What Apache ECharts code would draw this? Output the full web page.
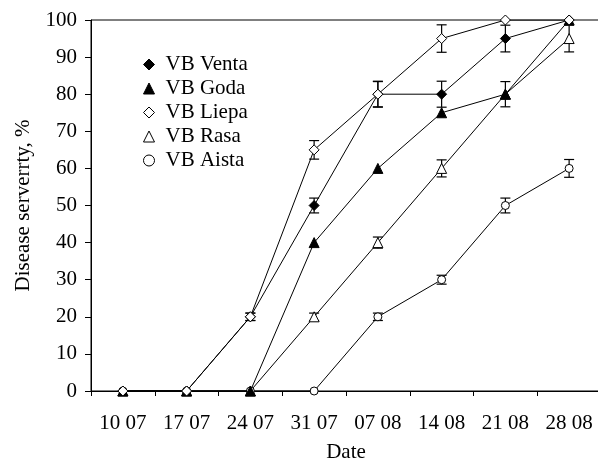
<!DOCTYPE html>
<html>
<head>
<meta charset="utf-8">
<script src="https://cdn.jsdelivr.net/npm/echarts@6/dist/echarts.min.js"></script>
<style>
  html, body { margin: 0; padding: 0; background: #fff; }
  #chart { width: 598px; height: 460px; }
</style>
</head>
<body>
<div id="chart"></div>
<script>
const dates = ['10 07', '17 07', '24 07', '31 07', '07 08', '14 08', '21 08', '28 08']

const venta = [0, 0, 20, 50, 80, 80, 95, 100]
const ventaErr = [0, 0, 1, 2, 3.5, 3.5, 3.6, 0]
const goda = [0, 0, 0, 40, 60, 75, 80, 100]
const godaErr = [0, 0, 0, 0, 0, 0, 3.4, 0]
const liepa = [0, 0, 20, 65, 80, 95, 100, 100]
const liepaErr = [0, 0, 1, 2.5, 3.4, 3.7, 0, 0]
const rasa = [0, 0, 0, 20, 40, 60, 80, 95]
const rasaErr = [0, 0, 0, 1, 1.5, 2.3, 0, 3.6]
const aista = [0, 0, 0, 0, 20, 30, 50, 60]
const aistaErr = [0, 0, 0, 0, 1, 1.2, 2, 2.4]

const font = 'Liberation Serif'

let myChart = echarts.init(document.getElementById('chart'), null, { renderer: 'canvas' })

// 误差线
function errorSeries(values, errs) {
  let data = []
  values.forEach((v, i) => {
    if (errs[i] > 0) data.push([i, v, errs[i]])
  })
  return {
    type: 'custom',
    z: 1,
    silent: true,
    data: data,
    encode: { x: 0, y: 1 },
    renderItem: function (params, api) {
      let x = api.value(0)
      let v = api.value(1)
      let e = api.value(2)
      let hi = api.coord([x, v + e])
      let lo = api.coord([x, v - e])
      let w = 5
      let style = { stroke: '#000', lineWidth: 1.2 }
      return {
        type: 'group',
        children: [
          { type: 'line', shape: { x1: hi[0], y1: hi[1], x2: lo[0], y2: lo[1] }, style: style },
          { type: 'line', shape: { x1: hi[0] - w, y1: hi[1], x2: hi[0] + w, y2: hi[1] }, style: style },
          { type: 'line', shape: { x1: lo[0] - w, y1: lo[1], x2: lo[0] + w, y2: lo[1] }, style: style }
        ]
      }
    }
  }
}

function lineSeries(name, values, symbol, size, filled) {
  return {
    name: name,
    type: 'line',
    z: 3,
    data: values,
    symbol: symbol,
    symbolSize: size,
    showAllSymbol: true,
    lineStyle: { color: '#000', width: 1 },
    itemStyle: filled
      ? { color: '#000', borderColor: '#000', borderWidth: 1 }
      : { color: '#fff', borderColor: '#000', borderWidth: 1 },
    emphasis: { disabled: true },
    animation: false
  }
}

const filledStyle = { color: '#000', borderColor: '#000', borderWidth: 1 }
const openStyle = { color: '#fff', borderColor: '#000', borderWidth: 1 }

myChart.setOption({
  animation: false,
  textStyle: { fontFamily: font, color: '#000' },
  grid: {
    left: 91,
    top: 20,
    width: 510,
    height: 371,
    outerBoundsMode: 'none',
    containLabel: false,
    show: true,
    borderColor: '#000',
    borderWidth: 1,
    backgroundColor: 'transparent'
  },
  legend: {
    orient: 'vertical',
    left: 138,
    top: 49,
    itemWidth: 11,
    itemHeight: 11,
    itemGap: 3,
    textStyle: { fontFamily: font, fontSize: 21, color: '#000', padding: [0, 0, 0, 6] },
    data: [
      { name: 'VB Venta', icon: 'diamond', itemStyle: filledStyle },
      { name: 'VB Goda', icon: 'triangle', itemStyle: filledStyle },
      { name: 'VB Liepa', icon: 'diamond', itemStyle: openStyle },
      { name: 'VB Rasa', icon: 'triangle', itemStyle: openStyle },
      { name: 'VB Aista', icon: 'circle', itemStyle: openStyle }
    ]
  },
  xAxis: {
    type: 'category',
    data: dates,
    boundaryGap: true,
    name: 'Date',
    nameLocation: 'middle',
    nameGap: 51,
    nameTextStyle: { fontFamily: font, fontSize: 21, color: '#000' },
    axisLine: { lineStyle: { color: '#000', width: 1 } },
    axisTick: { show: true, length: 5, lineStyle: { color: '#000' } },
    axisLabel: { fontFamily: font, fontSize: 21, color: '#000', margin: 22, interval: 0 },
    splitLine: { show: false }
  },
  yAxis: {
    type: 'value',
    min: 0,
    max: 100,
    interval: 10,
    name: 'Disease serverrty, %',
    nameLocation: 'middle',
    nameGap: 57,
    nameTextStyle: { fontFamily: font, fontSize: 21, color: '#000' },
    axisLine: { show: true, lineStyle: { color: '#000', width: 1 } },
    axisTick: { show: true, length: 6, lineStyle: { color: '#000' } },
    axisLabel: { fontFamily: font, fontSize: 21, color: '#000', margin: 14 },
    splitLine: { show: false }
  },
  series: [
    errorSeries(venta, ventaErr),
    errorSeries(goda, godaErr),
    errorSeries(liepa, liepaErr),
    errorSeries(rasa, rasaErr),
    errorSeries(aista, aistaErr),
    lineSeries('VB Rasa', rasa, 'triangle', 10, false),
    lineSeries('VB Aista', aista, 'circle', 8, false),
    lineSeries('VB Venta', venta, 'diamond', 10, true),
    lineSeries('VB Goda', goda, 'triangle', 10, true),
    lineSeries('VB Liepa', liepa, 'diamond', 10, false)
  ]
})
</script>
</body>
</html>
